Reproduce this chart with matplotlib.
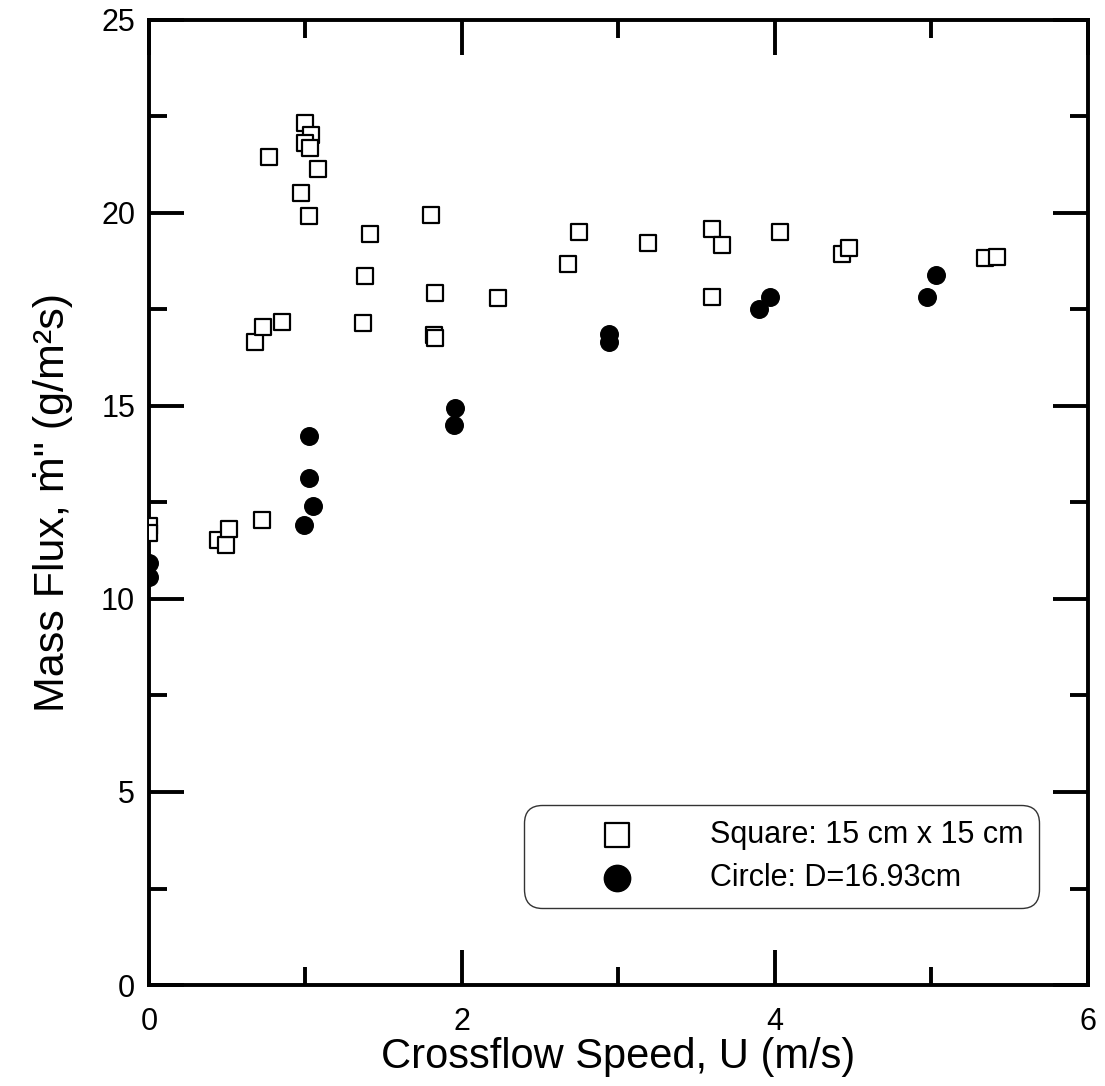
import matplotlib
matplotlib.use("Agg")
import matplotlib.pyplot as plt
from matplotlib import font_manager
from matplotlib.ticker import MultipleLocator

plt.rcParams['font.family'] = ['Liberation Sans', 'DejaVu Sans']

# square burner, 15 cm x 15 cm
square_u = [0.0, 0.0, 0.44, 0.49, 0.51, 0.72, 0.68, 0.73, 0.85, 0.77,
            1.0, 1.035, 1.0, 1.03, 1.08, 0.97, 1.02, 1.41, 1.38, 1.37,
            1.80, 1.83, 1.82, 1.83, 2.23, 2.68, 2.75, 3.19, 3.60, 3.66,
            3.60, 4.03, 4.43, 4.47, 5.34, 5.42]
square_flux = [11.9, 11.7, 11.53, 11.40, 11.81, 12.05, 16.66, 17.05, 17.18, 21.45,
               22.33, 22.02, 21.81, 21.68, 21.14, 20.52, 19.92, 19.46, 18.37, 17.15,
               19.95, 17.93, 16.84, 16.76, 17.8, 18.68, 19.5, 19.22, 19.59, 19.17,
               17.82, 19.5, 18.94, 19.09, 18.83, 18.86]

# circular burner, D = 16.93 cm
circle_u = [0.0, 0.0, 1.02, 1.02, 1.05, 0.99, 1.955, 1.95, 2.94, 2.94,
            3.97, 3.90, 5.03, 4.97]
circle_flux = [10.93, 10.57, 14.22, 13.13, 12.41, 11.92, 14.95, 14.51, 16.87, 16.66,
               17.82, 17.51, 18.39, 17.82]

# the x label in the scan is a tall, narrow face
installed = {f.name for f in font_manager.fontManager.ttflist}
if 'Liberation Sans Narrow' in installed:
    xlab_font, xlab_size = ['Liberation Sans Narrow', 'DejaVu Sans'], 36
else:
    xlab_font, xlab_size = ['Liberation Sans', 'DejaVu Sans'], 30

fig = plt.figure(figsize=(11.05, 10.86), dpi=100)
ax = fig.add_axes([0.1348, 0.0930, 0.8498, 0.8886])

ax.scatter(square_u, square_flux, marker='s', s=135, facecolors='white',
           edgecolors='black', linewidths=1.6, label='Square: 15 cm x 15 cm', zorder=3)
ax.scatter(circle_u, circle_flux, marker='o', s=160, color='black',
           label='Circle: D=16.93cm', zorder=4)

ax.set_xlim(0, 6)
ax.set_ylim(0, 25)
ax.xaxis.set_major_locator(MultipleLocator(2))
ax.xaxis.set_minor_locator(MultipleLocator(1))
ax.yaxis.set_major_locator(MultipleLocator(5))
ax.yaxis.set_minor_locator(MultipleLocator(2.5))
ax.tick_params(which='both', direction='in', top=True, right=True, width=2.8,
               labelsize=22)
ax.tick_params(axis='y', pad=10)
ax.tick_params(axis='x', pad=16)
ax.tick_params(which='major', length=25)
ax.tick_params(which='minor', length=13)
for sp in ax.spines.values():
    sp.set_linewidth(2.8)

ax.set_xlabel('Crossflow Speed, U (m/s)', fontsize=xlab_size, family=xlab_font,
              labelpad=0)
ax.set_ylabel('Mass Flux, ṁ" (g/m²s)', fontsize=31, labelpad=20)

leg = ax.legend(loc='upper left', bbox_to_anchor=(0.3994, 0.1865), fontsize=22,
                frameon=True, fancybox=True, markerscale=1.5, scatterpoints=1,
                borderpad=0.5, handlelength=5.1, handletextpad=0.5,
                labelspacing=0.4, borderaxespad=0)
leg.get_frame().set_edgecolor('black')
leg.get_frame().set_linewidth(1.0)
leg.get_frame().set_boxstyle('round,pad=0,rounding_size=0.6')

fig.savefig('out.png', dpi=100)
